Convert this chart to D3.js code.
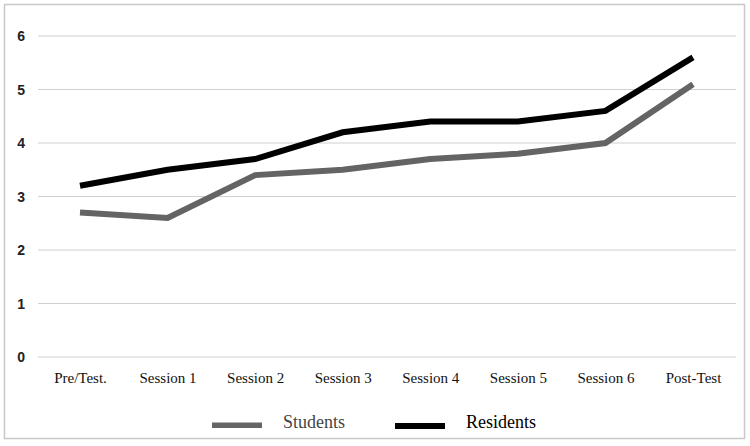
<!DOCTYPE html>
<html><head><meta charset="utf-8">
<script src="https://cdn.jsdelivr.net/npm/d3@7"></script>
<style>html,body{margin:0;padding:0;background:#fff;}</style>
</head><body>
<svg id="c" width="750" height="446"></svg>
<script>
const categories = ["Pre/Test.","Session 1","Session 2","Session 3","Session 4","Session 5","Session 6","Post-Test"];
const students = [2.7, 2.6, 3.4, 3.5, 3.7, 3.8, 4.0, 5.1];
const residents = [3.2, 3.5, 3.7, 4.2, 4.4, 4.4, 4.6, 5.6];
const yTicks = [0,1,2,3,4,5,6];
const seriesNames = ["Students","Residents"];
const seriesColors = ["#646464","#000000"];

const svg = d3.select("#c");
svg.append("rect").attr("x",4.5).attr("y",4.5).attr("width",740).attr("height",434)
  .attr("fill","#fff").attr("stroke","#c8c8c8").attr("stroke-width",1.5);

const x = d3.scalePoint().domain(categories).range([80,693]);
const y = d3.scaleLinear().domain([0,6]).range([357,36]);

const grid = svg.append("g");
grid.selectAll("line").data(yTicks).join("line")
  .attr("x1",38).attr("x2",736)
  .attr("y1",d=>y(d)).attr("y2",d=>y(d))
  .attr("stroke","#d0d0d0").attr("stroke-width",1.2);

const yAxis = d3.axisLeft(y).tickValues(yTicks).tickSize(0).tickPadding(0).tickFormat(d3.format("d"));
const ya = svg.append("g").attr("transform","translate(25,0)").call(yAxis);
ya.select(".domain").remove();
ya.selectAll("text").attr("font-family","Liberation Sans, Arial, sans-serif").attr("font-size",14)
  .attr("font-weight","bold").attr("fill","#222").attr("text-anchor","end").attr("dy","0.35em");

const xAxis = d3.axisBottom(x).tickSize(0).tickPadding(0);
const xa = svg.append("g").attr("transform","translate(0,383)").call(xAxis);
xa.select(".domain").remove();
xa.selectAll("text").attr("font-family","Liberation Serif, Times New Roman, serif").attr("font-size",15)
  .attr("fill","#111").attr("dy","0");

const line = d3.line().x((d,i)=>x(categories[i])).y(d=>y(d));
[students, residents].forEach((s,k)=>{
  svg.append("path").datum(s).attr("d",line).attr("fill","none")
    .attr("stroke",seriesColors[k]).attr("stroke-width",6).attr("stroke-linejoin","miter");
});

const legend = [{x:212, tx:283},{x:395, tx:466}];
legend.forEach((l,k)=>{
  svg.append("rect").attr("x",l.x).attr("y",k? 423:422.5).attr("width",50).attr("height",k?6:5.5)
    .attr("fill",seriesColors[k]);
  svg.append("text").attr("x",l.tx).attr("y",427.5).text(seriesNames[k])
    .attr("font-family","Liberation Serif, Times New Roman, serif").attr("font-size",18)
    .attr("fill",k? "#000":"#444");
});
</script>
</body></html>
